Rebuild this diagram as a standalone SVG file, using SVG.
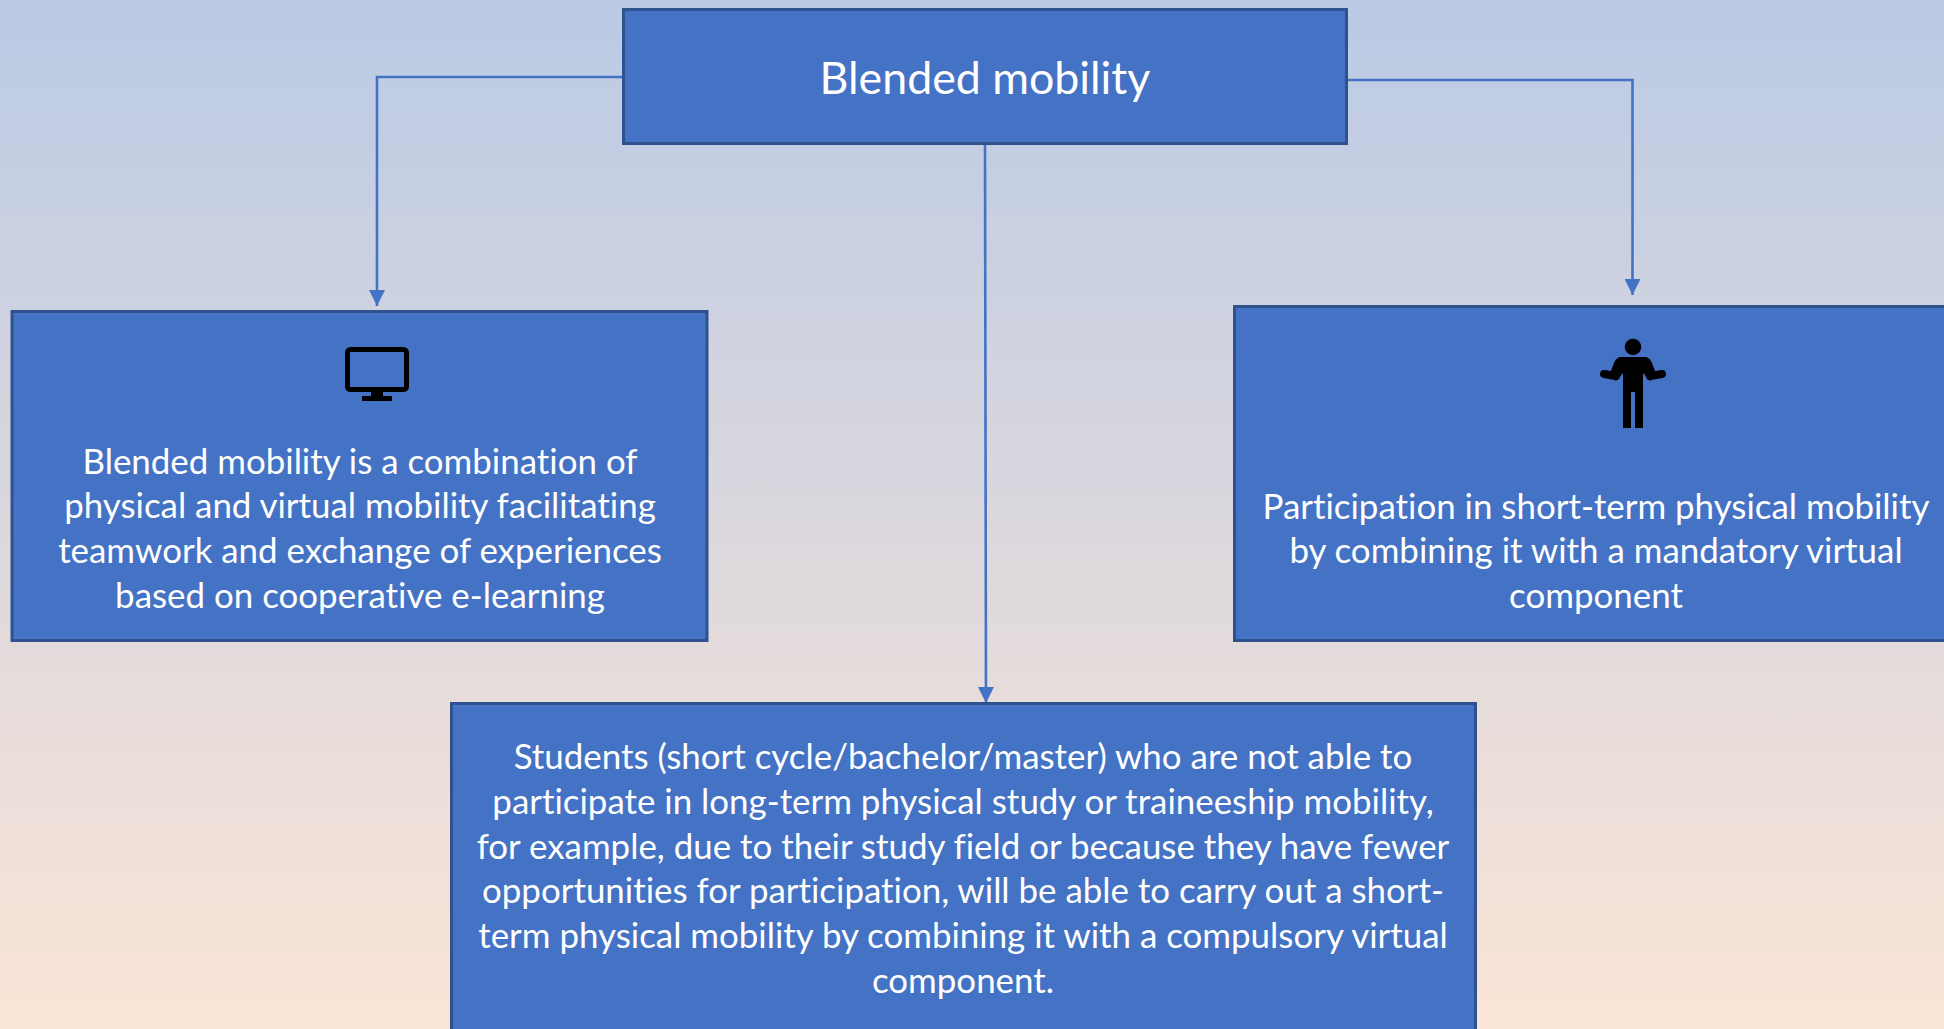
<svg xmlns="http://www.w3.org/2000/svg" width="1944" height="1029" viewBox="0 0 1944 1029">
<style>
.box{fill:#4472c4;stroke:#2f528f;stroke-width:3}
.t{font-family:Lato,"Carlito","Liberation Sans",sans-serif;font-size:34.9px;fill:#fff;text-anchor:middle;font-variant-ligatures:none}
.c{fill:none;stroke:#4472c4;stroke-width:2.6}
</style>
<defs>
<linearGradient id="bg" x1="0" y1="0" x2="0" y2="1"><stop offset="0" stop-color="#bacae5"/><stop offset="1" stop-color="#fbe5d6"/></linearGradient>
<marker id="a" markerUnits="userSpaceOnUse" markerWidth="16" markerHeight="16" refX="16" refY="8" orient="auto"><path d="M0 0L16 8L0 16Z" fill="#4472c4"/></marker>
</defs>
<rect width="1944" height="1029" fill="url(#bg)"/>
<g id="connectors">
<path class="c" d="M623 77H377V306" marker-end="url(#a)"/>
<path class="c" d="M1347 80H1632.500V295" marker-end="url(#a)"/>
<path class="c" d="M985 144L986 703" marker-end="url(#a)"/>
</g>
<g id="node-top"><rect class="box" x="623.500" y="9.500" width="723" height="134"/>
<text class="t" x="985" y="93.500" style="font-size:44.700px">Blended mobility</text></g>
<g id="node-left"><rect class="box" x="12" y="311.500" width="695" height="329"/>
<g id="icon-monitor"><rect x="347.500" y="349.500" width="59" height="40" rx="3" fill="none" stroke="#000" stroke-width="5"/><rect x="371" y="390" width="12" height="7" fill="#000"/><rect x="362" y="396" width="30" height="5" fill="#000"/></g>
<text class="t" x="360" y="474">Blended mobility is a combination of</text>
<text class="t" x="360" y="518">physical and virtual mobility facilitating</text>
<text class="t" x="360" y="563">teamwork and exchange of experiences</text>
<text class="t" x="360" y="608">based on cooperative e-learning</text></g>
<g id="node-right"><rect class="box" x="1234.500" y="306.500" width="720" height="334"/>
<g id="icon-person" fill="#000" stroke="#000"><circle cx="1633" cy="347" r="8.300" stroke="none"/><path stroke="none" d="M1620 357H1646Q1650 358 1652 363L1657 376 1650 381 1643 373V428H1635V392H1631V428H1623V373L1616 381 1609 376 1614 363Q1616 358 1620 357Z"/><path fill="none" stroke-width="8" stroke-linecap="round" d="M1604 374L1616 376M1662 374L1650 376"/></g>
<text class="t" x="1596" y="519">Participation in short-term physical mobility</text>
<text class="t" x="1596" y="563">by combining it with a mandatory virtual</text>
<text class="t" x="1596" y="608">component</text></g>
<g id="node-bottom"><rect class="box" x="451.500" y="703.500" width="1024" height="335"/>
<text class="t" x="963" y="769">Students (short cycle/bachelor/master) who are not able to</text>
<text class="t" x="963" y="814">participate in long-term physical study or traineeship mobility,</text>
<text class="t" x="963" y="859">for example, due to their study field or because they have fewer</text>
<text class="t" x="963" y="903">opportunities for participation, will be able to carry out a short-</text>
<text class="t" x="963" y="948">term physical mobility by combining it with a compulsory virtual</text>
<text class="t" x="963" y="993">component.</text></g>
</svg>
